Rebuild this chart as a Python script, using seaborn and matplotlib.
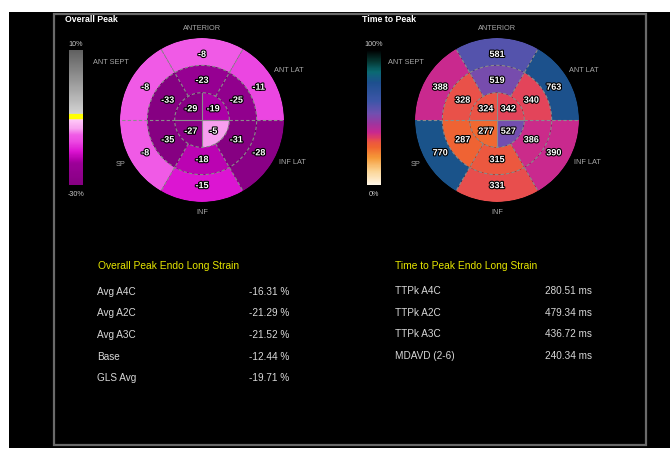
import numpy as np
import matplotlib
matplotlib.use("Agg")
import matplotlib.pyplot as plt
import matplotlib.patheffects as pe
from matplotlib.colors import LinearSegmentedColormap, TwoSlopeNorm, Normalize
from matplotlib.patches import Rectangle
import seaborn as sns

# ---------------- data ----------------
# ring order for 6-segment rings: top, upper-right, lower-right, bottom, lower-left, upper-left
strain_basal = [-8, -11, -28, -15, -8, -8]
strain_mid = [-23, -25, -31, -18, -35, -33]
# apical order: upper-right, upper-left, lower-left, lower-right
strain_apical = [-19, -29, -27, -5]

ttp_basal = [581, 763, 390, 331, 770, 388]
ttp_mid = [519, 340, 386, 315, 287, 328]
ttp_apical = [342, 324, 277, 527]

wall_labels = ["ANTERIOR", "ANT LAT", "INF LAT", "INF", "SP", "ANT SEPT"]

strain_title = "Overall Peak Endo Long Strain"
strain_rows = ["Avg A4C", "Avg A2C", "Avg A3C", "Base", "GLS Avg"]
strain_vals = [-16.31, -21.29, -21.52, -12.44, -19.71]

ttp_title = "Time to Peak Endo Long Strain"
ttp_rows = ["TTPk A4C", "TTPk A2C", "TTPk A3C", "MDAVD (2-6)"]
ttp_vals = [280.51, 479.34, 436.72, 240.34]

strain_scale = ["10%", "-30%"]
ttp_scale = ["100%", "0%"]

# ---------------- style ----------------
sns.set_style("white")
plt.rcParams["font.family"] = ["Liberation Sans", "DejaVu Sans"]

W, H = 670, 450
fig = plt.figure(figsize=(W / 100, H / 100), dpi=100)
fig.patch.set_facecolor("white")

bg = fig.add_axes([0, 0, 1, 1])
bg.set_xlim(0, W)
bg.set_ylim(H, 0)
bg.axis("off")
bg.add_patch(Rectangle((9, 12), W - 9, 436, facecolor="black", edgecolor="none", zorder=0))
bg.add_patch(Rectangle((53.5, 13.5), 592.5, 431, fill=False, edgecolor="#6a6a6a", lw=1.6, zorder=1))

# colormaps
strain_cmap = LinearSegmentedColormap.from_list("strain", [
    (0.00, "#860082"), (0.16, "#9c0098"), (0.19, "#b400ac"), (0.25, "#dc14d2"),
    (0.32, "#ec48e2"), (0.37, "#f05ce6"), (0.42, "#f8a4f0"), (0.485, "#ffcaf8"),
    (0.49, "#ffff00"), (0.525, "#ffff00"), (0.53, "#d2d2d2"), (1.00, "#606060")])
strain_norm = TwoSlopeNorm(vmin=-30, vcenter=0, vmax=10)

ttp_cmap = LinearSegmentedColormap.from_list("ttp", [
    (0.00, "#fff6e6"), (0.10, "#fbd596"), (0.20, "#f59a38"), (0.28, "#f06530"),
    (0.315, "#ec5840"), (0.335, "#e64a52"), (0.35, "#de3c66"), (0.39, "#c82890"),
    (0.45, "#a0349e"), (0.53, "#7050b0"), (0.62, "#3e56a8"), (0.76, "#1d4f8e"),
    (0.84, "#0a6a72"), (0.92, "#053530"), (1.00, "#000000")])
ttp_norm = Normalize(vmin=0, vmax=1000)

ang6 = np.deg2rad([90, 30, -30, -90, -150, 150])
ang4 = np.deg2rad([45, 135, 225, 315])
outline = [pe.withStroke(linewidth=1.6, foreground="black")]


def bullseye(cx, cy, basal, mid, apical, cmap, norm):
    R = 82
    ax = fig.add_axes([(cx - R) / W, 1 - (cy + R) / H, 2 * R / W, 2 * R / H], projection="polar")
    ax.axis("off")
    ax.bar(ang6, 1, width=np.deg2rad(60), bottom=2, color=cmap(norm(basal)), edgecolor="none")
    ax.bar(ang6, 1, width=np.deg2rad(60), bottom=1, color=cmap(norm(mid)), edgecolor="none")
    ax.bar(ang4, 1, width=np.deg2rad(90), bottom=0, color=cmap(norm(apical)), edgecolor="none")
    t = np.linspace(0, 2 * np.pi, 300)
    for r in (1, 2):
        ax.plot(t, np.full_like(t, r), ls=(0, (3, 2)), color="#8c8c8c", lw=0.8)
    for a in np.deg2rad([0, 60, 120, 180, 240, 300]):
        ax.plot([a, a], [1, 3], ls=(0, (3, 2)), color="#8c8c8c", lw=0.8)
    for a in np.deg2rad([0, 90, 180, 270]):
        ax.plot([a, a], [0, 1], color="#8c8c8c", lw=0.8)
    ax.set_ylim(0, 3)
    for a, v in zip(ang6, basal):
        ax.text(a, 2.4, f"{v}", ha="center", va="center", color="white", fontsize=6.5,
                fontweight="bold", path_effects=outline)
    for a, v in zip(ang6, mid):
        ax.text(a, 1.45, f"{v}", ha="center", va="center", color="white", fontsize=6.5,
                fontweight="bold", path_effects=outline)
    for a, v in zip(ang4, apical):
        ax.text(a, 0.58, f"{v}", ha="center", va="center", color="white", fontsize=6.5,
                fontweight="bold", path_effects=outline)
    # wall labels
    offs = [(0, -91), (87, -50), (90, 43), (0, 92), (-81, 44), (-91, -57)]
    for (dx, dy), lab in zip(offs, wall_labels):
        bg.text(cx + dx, cy + dy, lab, ha="center", va="center", color="#a8a8a8", fontsize=5.3)


def colorbar(x, cmap, labels):
    cax = fig.add_axes([x / W, 1 - 185 / H, 14 / W, 135 / H])
    grad = np.linspace(1, 0, 256).reshape(-1, 1)
    sns.heatmap(grad, ax=cax, cmap=cmap, vmin=0, vmax=1, cbar=False,
                xticklabels=False, yticklabels=False)
    bg.text(x + 7, 45, labels[0], ha="center", va="center", color="#c8c8c8", fontsize=5.2)
    bg.text(x + 7, 194, labels[1], ha="center", va="center", color="#c8c8c8", fontsize=5.2)


bullseye(202, 120, strain_basal, strain_mid, strain_apical, strain_cmap, strain_norm)
bullseye(497, 120, ttp_basal, ttp_mid, ttp_apical, ttp_cmap, ttp_norm)
colorbar(69, strain_cmap, strain_scale)
colorbar(367, ttp_cmap, ttp_scale)

bg.text(65, 20, "Overall Peak", ha="left", va="center", color="white", fontsize=6.3, fontweight="bold")
bg.text(362, 20, "Time to Peak", ha="left", va="center", color="white", fontsize=6.3, fontweight="bold")

# tables
bg.text(98, 266, strain_title, ha="left", va="center", color="#e6e600", fontsize=7.4)
for i, (lab, v) in enumerate(zip(strain_rows, strain_vals)):
    y = 292 + i * 21.5
    bg.text(97, y, lab, ha="left", va="center", color="#d8d8d8", fontsize=7.2)
    bg.text(289, y, f"{v:.2f} %", ha="right", va="center", color="#d8d8d8", fontsize=7.2)

bg.text(395, 266, ttp_title, ha="left", va="center", color="#e6e600", fontsize=7.4)
for i, (lab, v) in enumerate(zip(ttp_rows, ttp_vals)):
    y = 291 + i * 21.7
    bg.text(395, y, lab, ha="left", va="center", color="#d8d8d8", fontsize=7.2)
    bg.text(592, y, f"{v:.2f} ms", ha="right", va="center", color="#d8d8d8", fontsize=7.2)

fig.savefig("out.png", dpi=100, facecolor=fig.get_facecolor())
